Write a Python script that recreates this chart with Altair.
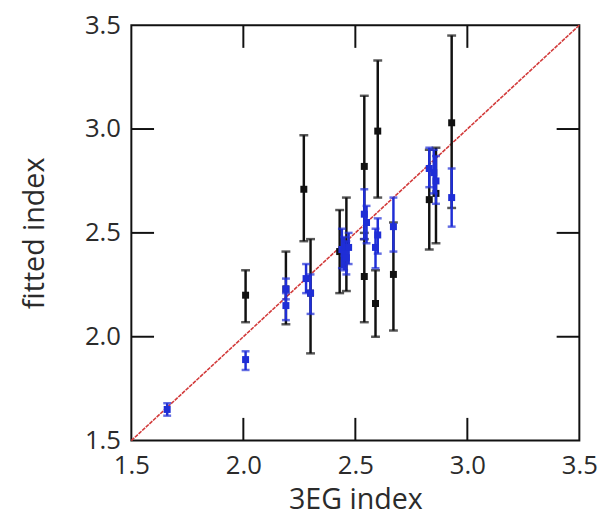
import altair as alt
import pandas as pd

# black points: 3EG index, fitted index, error low, error high
bx = [2.01, 2.19, 2.27, 2.30, 2.43, 2.46, 2.54, 2.54, 2.59, 2.60, 2.67, 2.83, 2.86, 2.93]
by = [2.20, 2.23, 2.71, 2.21, 2.41, 2.44, 2.82, 2.29, 2.16, 2.99, 2.30, 2.66, 2.69, 3.03]
blo = [2.07, 2.06, 2.46, 1.92, 2.21, 2.22, 2.47, 2.07, 2.00, 2.67, 2.03, 2.42, 2.45, 2.62]
bhi = [2.32, 2.41, 2.97, 2.47, 2.61, 2.67, 3.16, 2.50, 2.32, 3.33, 2.55, 2.90, 2.91, 3.45]

# blue points
ux = [1.66, 2.01, 2.19, 2.19, 2.28, 2.30, 2.44, 2.45, 2.46, 2.47, 2.54, 2.55, 2.59, 2.60, 2.67, 2.83, 2.85, 2.86, 2.93]
uy = [1.65, 1.89, 2.23, 2.15, 2.28, 2.21, 2.42, 2.40, 2.38, 2.43, 2.59, 2.55, 2.43, 2.49, 2.53, 2.81, 2.79, 2.75, 2.67]
ulo = [1.62, 1.84, 2.18, 2.08, 2.21, 2.11, 2.33, 2.32, 2.30, 2.35, 2.47, 2.45, 2.33, 2.40, 2.41, 2.72, 2.69, 2.64, 2.53]
uhi = [1.68, 1.93, 2.28, 2.21, 2.35, 2.30, 2.52, 2.48, 2.46, 2.50, 2.71, 2.63, 2.52, 2.57, 2.67, 2.91, 2.90, 2.87, 2.81]

line_x = [1.5, 3.5]
line_y = [1.5, 3.5]
inner_ticks = [2.0, 2.5, 3.0]
XTITLE = "3EG index"
YTITLE = "fitted index"

FONT = "Open Sans"
TXT = "#2b2b2b"
W, H = 454, 421
TL = 23
BLUE = "#1f2ed6"
FRAME = "#111111"

black = pd.DataFrame({"x": bx, "y": by, "lo": blo, "hi": bhi})
blue = pd.DataFrame({"x": ux, "y": uy, "lo": ulo, "hi": uhi})
diag = pd.DataFrame({"x": line_x, "y": line_y})
tk = pd.DataFrame({"t": inner_ticks})

xs = alt.Scale(domain=[1.5, 3.5], nice=False, zero=False)
ys = alt.Scale(domain=[1.5, 3.5], nice=False, zero=False)


def X(f):
    return alt.X(f, type="quantitative", scale=xs, title=XTITLE)


def Y(f):
    return alt.Y(f, type="quantitative", scale=ys, title=YTITLE)


line = alt.Chart(diag).mark_line(color="#d23a3a", strokeWidth=1.6, strokeDash=[4, 1]).encode(
    x=X("x"), y=Y("y"))

tb = alt.Chart(tk)
tick_layers = [
    tb.mark_rule(color=FRAME, strokeWidth=2).encode(
        x=X("t"), y=alt.value(H), y2=alt.value(H - TL)),
    tb.mark_rule(color=FRAME, strokeWidth=2).encode(
        x=X("t"), y=alt.value(0), y2=alt.value(TL)),
    tb.mark_rule(color=FRAME, strokeWidth=2).encode(
        y=Y("t"), x=alt.value(0), x2=alt.value(TL)),
    tb.mark_rule(color=FRAME, strokeWidth=2).encode(
        y=Y("t"), x=alt.value(W), x2=alt.value(W - TL)),
]


def errlayers(df, color, cap):
    base = alt.Chart(df)
    rule = base.mark_rule(color=color, strokeWidth=2.5).encode(
        x=X("x"), y=Y("lo"), y2="hi:Q")
    lo = base.mark_tick(color=color, orient="horizontal", size=cap, thickness=2.5).encode(
        x=X("x"), y=Y("lo"))
    hi = base.mark_tick(color=color, orient="horizontal", size=cap, thickness=2.5).encode(
        x=X("x"), y=Y("hi"))
    pt = base.mark_square(color=color, size=50, opacity=1).encode(
        x=X("x"), y=Y("y"))
    return [rule, lo, hi, pt]


layers = [line] + tick_layers + errlayers(black, "#111111", 9) + errlayers(blue, BLUE, 8)

chart = (
    alt.layer(*layers)
    .properties(
        width=W, height=H,
        autosize=alt.AutoSizeParams(type="none"),
        padding={"left": 125, "top": 14, "right": 26, "bottom": 72},
    )
    .configure_view(stroke=FRAME, strokeWidth=2)
    .configure_axis(
        domain=False, ticks=False, grid=False, tickCount=4, format=".1f",
        labelFlush=False, labelFont=FONT, labelFontSize=26, labelColor=TXT,
        titleFont=FONT, titleFontSize=29, titleColor=TXT, titleFontWeight="normal",
    )
    .configure_axisX(labelPadding=12, titleBaseline="middle", titleY=60)
    .configure_axisY(labelPadding=11, titleAngle=270, titleBaseline="middle",
                     titleX=-98, titleY=H / 2)
)

chart.save("out.html", embed_options={"renderer": "svg", "actions": False})
